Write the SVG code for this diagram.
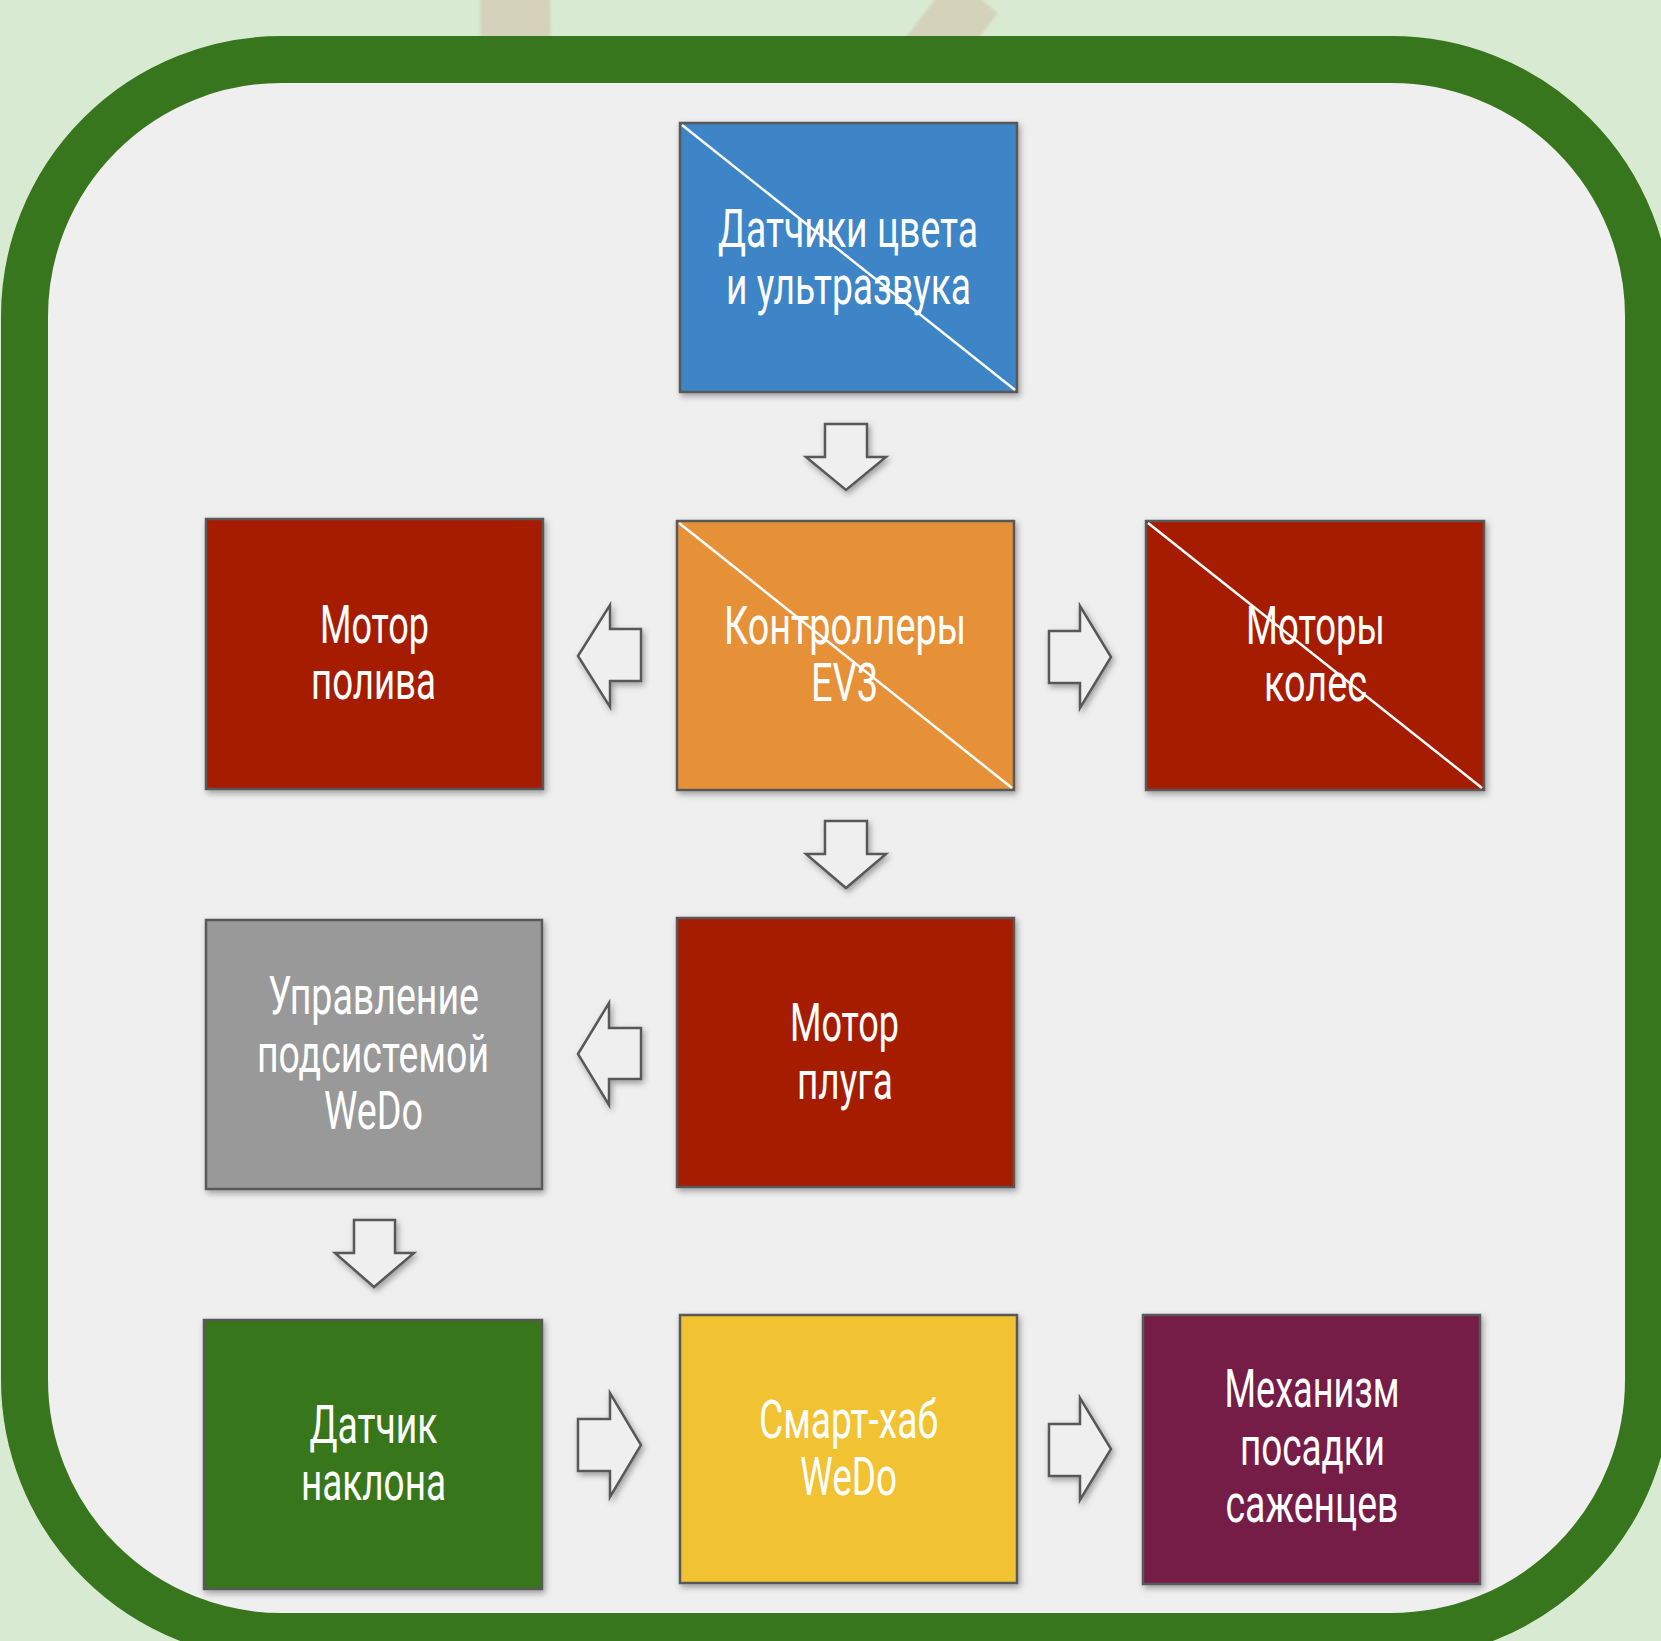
<svg xmlns="http://www.w3.org/2000/svg" width="1661" height="1641" viewBox="0 0 1661 1641">
<defs>
<filter id="sh" x="-10%" y="-10%" width="125%" height="125%">
<feDropShadow dx="2" dy="3" stdDeviation="3" flood-color="#000" flood-opacity="0.35"/>
</filter>
<filter id="blur"><feGaussianBlur stdDeviation="1.5"/></filter>
</defs>
<style>
.box{stroke:#595959;stroke-width:2.5;filter:url(#sh)}
.diag{stroke:#ffffff;stroke-width:2.5}
.arrow{fill:#efefef;stroke:#595959;stroke-width:2.5;stroke-linejoin:miter;filter:url(#sh)}
.lbl{font-family:Roboto,"Liberation Sans",sans-serif;font-size:53px;fill:#ffffff;text-anchor:middle}
</style>
<rect x="0" y="0" width="1661" height="1641" fill="#d9ead3"/>
<g id="ropes" filter="url(#blur)">
<path d="M515,-5 L516,60" stroke="#d4d2ba" stroke-width="70" fill="none"/>
<path d="M975,-5 L925,60" stroke="#d4d2ba" stroke-width="58" fill="none"/>
</g>
<rect id="frame" x="24.5" y="59.5" width="1624" height="1577" rx="257" ry="257" fill="#efefef" stroke="#38761d" stroke-width="47"/>
<g id="connectors">
<path class="arrow" d="M825,424 L867,424 L867,457 L886,457 L846,490 L806,457 L825,457 Z"/>
<path class="arrow" d="M825,821 L867,821 L867,854 L886,854 L846,888 L806,854 L825,854 Z"/>
<path class="arrow" d="M354,1220 L395,1220 L395,1253 L414,1253 L374,1287 L335,1253 L354,1253 Z"/>
<path class="arrow" d="M578,656 L610,605 L610,629 L641,629 L641,681 L610,681 L610,707 Z"/>
<path class="arrow" d="M578,1054 L609,1003 L609,1028 L641,1028 L641,1079 L609,1079 L609,1105 Z"/>
<path class="arrow" d="M1049,631 L1080,631 L1080,606 L1111,657 L1080,708 L1080,683 L1049,683 Z"/>
<path class="arrow" d="M578,1419 L610,1419 L610,1393 L641,1445 L610,1497 L610,1471 L578,1471 Z"/>
<path class="arrow" d="M1049,1424 L1080,1424 L1080,1398 L1111,1449 L1080,1500 L1080,1476 L1049,1476 Z"/>
</g>
<g id="sensors">
<rect class="box" x="680" y="123" width="337" height="269" fill="#3d85c6"/>
<line class="diag" x1="682" y1="125" x2="1015" y2="390"/>
<text class="lbl" x="848" y="247" textLength="260" lengthAdjust="spacingAndGlyphs">Датчики цвета</text>
<text class="lbl" x="848.5" y="304" textLength="245" lengthAdjust="spacingAndGlyphs">и ультразвука</text>
</g>
<g id="ev3">
<rect class="box" x="677" y="521" width="337" height="269" fill="#e69138"/>
<line class="diag" x1="679" y1="523" x2="1012" y2="788"/>
<text class="lbl" x="845" y="644" textLength="242" lengthAdjust="spacingAndGlyphs">Контроллеры</text>
<text class="lbl" x="844.5" y="701" textLength="67" lengthAdjust="spacingAndGlyphs">EV3</text>
</g>
<g id="watering-motor">
<rect class="box" x="206" y="519" width="337" height="270" fill="#a61c00"/>
<text class="lbl" x="374.5" y="643" textLength="109" lengthAdjust="spacingAndGlyphs">Мотор</text>
<text class="lbl" x="373.5" y="699" textLength="125" lengthAdjust="spacingAndGlyphs">полива</text>
</g>
<g id="wheel-motors">
<rect class="box" x="1146" y="521" width="338" height="269" fill="#a61c00"/>
<line class="diag" x1="1148" y1="523" x2="1482" y2="788"/>
<text class="lbl" x="1315.5" y="644" textLength="139" lengthAdjust="spacingAndGlyphs">Моторы</text>
<text class="lbl" x="1315.5" y="701" textLength="103" lengthAdjust="spacingAndGlyphs">колес</text>
</g>
<g id="plow-motor">
<rect class="box" x="677" y="918" width="337" height="269" fill="#a61c00"/>
<text class="lbl" x="844.5" y="1041" textLength="109" lengthAdjust="spacingAndGlyphs">Мотор</text>
<text class="lbl" x="845" y="1099" textLength="96" lengthAdjust="spacingAndGlyphs">плуга</text>
</g>
<g id="wedo-control">
<rect class="box" x="206" y="920" width="336" height="269" fill="#999999"/>
<text class="lbl" x="373.5" y="1014" textLength="211" lengthAdjust="spacingAndGlyphs">Управление</text>
<text class="lbl" x="373" y="1072" textLength="232" lengthAdjust="spacingAndGlyphs">подсистемой</text>
<text class="lbl" x="373.5" y="1129" textLength="99" lengthAdjust="spacingAndGlyphs">WeDo</text>
</g>
<g id="tilt-sensor">
<rect class="box" x="204" y="1320" width="338" height="269" fill="#38761d"/>
<text class="lbl" x="373.5" y="1443" textLength="128" lengthAdjust="spacingAndGlyphs">Датчик</text>
<text class="lbl" x="373.5" y="1500" textLength="145" lengthAdjust="spacingAndGlyphs">наклона</text>
</g>
<g id="smart-hub">
<rect class="box" x="680" y="1315" width="337" height="268" fill="#f1c232"/>
<text class="lbl" x="848.5" y="1438" textLength="179" lengthAdjust="spacingAndGlyphs">Смарт-хаб</text>
<text class="lbl" x="848.5" y="1495" textLength="97" lengthAdjust="spacingAndGlyphs">WeDo</text>
</g>
<g id="planting-mechanism">
<rect class="box" x="1143" y="1315" width="337" height="269" fill="#741b47"/>
<text class="lbl" x="1312" y="1407" textLength="175" lengthAdjust="spacingAndGlyphs">Механизм</text>
<text class="lbl" x="1312.5" y="1465" textLength="145" lengthAdjust="spacingAndGlyphs">посадки</text>
<text class="lbl" x="1312" y="1522" textLength="173" lengthAdjust="spacingAndGlyphs">саженцев</text>
</g>
</svg>
